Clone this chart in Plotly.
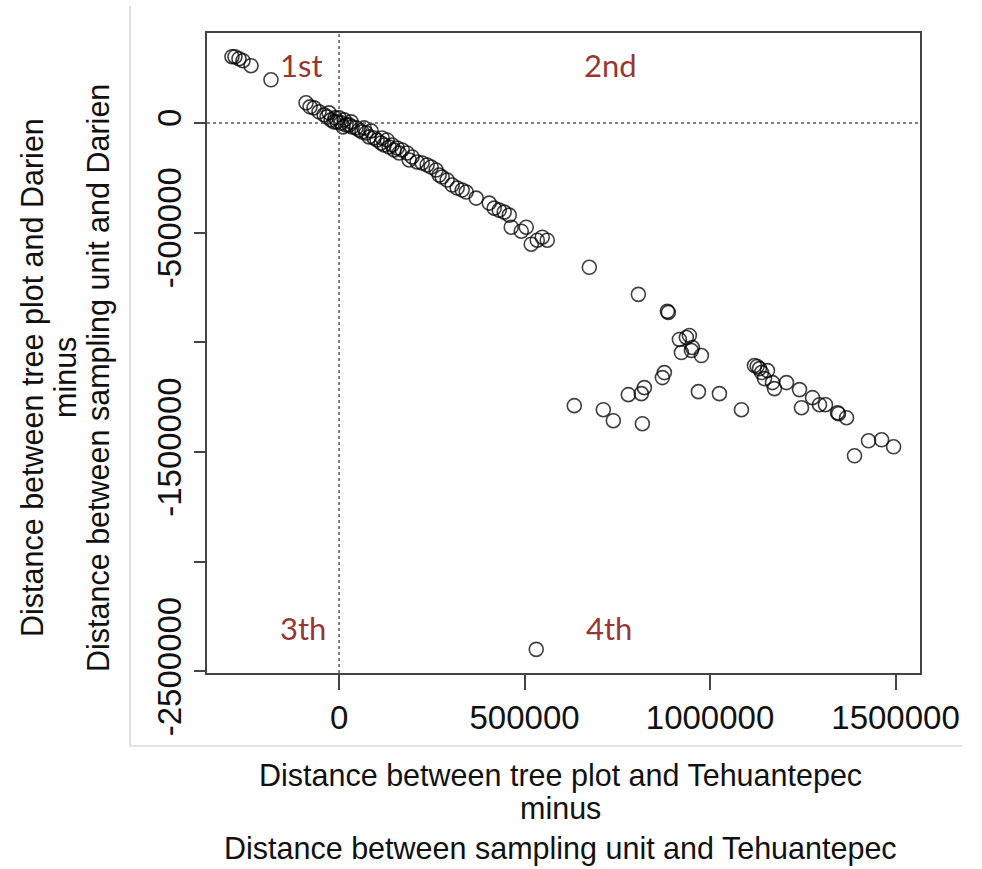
import plotly.graph_objects as go

# Difference in distance to Tehuantepec (x) and Darien (y)
x_vals = [
    -288700, -280600, -269800, -259000, -237400, -183500,
    -89000, -78200, -67500, -54000, -40500, -32400, -21600, -13500, -5400, 5400,
    13500, 18900, 27000, 35100, 45900, 54000, 62100, 72900, 80900, 94400,
    102500, 113300, 121400, 134900, 148400, 161900,
    -27000, -10800, 0, 10800, 32400, 67500, 86300, 116000, 129500, 188900,
    143000, 156500, 170000, 183500, 197000, 210500, 224000, 237400, 248200, 261700,
    269800, 277900, 291400, 304900, 318400, 342700, 369600, 404700,
    331900, 418200, 431700, 445200, 458700, 464100, 491100, 504600, 518000, 534300,
    547700, 561200,
    674600, 806800, 887700, 885000, 917400, 936200, 944300, 922800, 949800, 952500,
    976800, 876900, 871500, 823000, 814800, 779800, 968700, 1025300, 634100, 712300,
    739300, 817600, 1084700,
    1119800, 1127000, 1133300, 1138700, 1154800, 1146800, 1168300, 1173700, 1206100, 1241200,
    1246600, 1276300, 1295100, 1311300, 1343700, 1346400, 1368000, 1389500, 1427300, 1462400,
    1494800,
    531500,
]
y_vals = [
    301600, 301600, 292500, 283300, 260500, 196500,
    91400, 73100, 68600, 50300, 36600, 27400, 13700, 4600, 4600, 0,
    13700, -9100, -9100, -18300, -22900, -32000, -41100, -45700, -64000, -68600,
    -77700, -91400, -100500, -109700, -123400, -137100,
    45700, 22900, 22900, -18300, 4600, -22900, -36600, -68600, -77700, -169100,
    -100500, -114300, -123400, -137100, -155400, -178200, -182800, -191900, -201100, -214800,
    -237600, -246800, -260500, -283300, -297100, -315300, -342800, -365600,
    -306200, -388500, -397600, -406700, -420400, -475300, -493600, -475300, -553000, -534700,
    -521000, -534700,
    -658100, -781500, -863700, -859000, -987100, -978000, -968800, -1046500, -1037400, -1023700,
    -1060200, -1138000, -1160800, -1206500, -1233900, -1238500, -1224800, -1233900, -1288700, -1307000,
    -1357300, -1371000, -1307000,
    -1105900, -1110000, -1119700, -1137900, -1128800, -1165400, -1183600, -1211000, -1183600, -1215600,
    -1297900, -1252200, -1284200, -1284200, -1320700, -1325300, -1343600, -1517200, -1448700, -1444100,
    -1476100,
    -2399300,
]

x_ticks = [0, 500000, 1000000, 1500000]
x_tick_text = ["0", "500000", "1000000", "1500000"]
y_ticks = [0, -500000, -1000000, -1500000, -2000000, -2500000]
y_tick_text = ["0", "-500000", "", "-1500000", "", "-2500000"]

quadrant_labels = ["1st", "2nd", "3th", "4th"]
x_title_lines = ["Distance between tree plot and Tehuantepec", "minus",
                 "Distance between sampling unit and Tehuantepec"]
y_title_lines = ["Distance between tree plot and Darien", "minus",
                 "Distance between sampling unit and Darien"]

W, H = 982, 869
L, R, T, B = 207, 62, 33, 196
pw, ph = W - L - R, H - T - B

def px(xp):
    return (xp - L) / pw

def py(yp):
    return (H - B - yp) / ph

tick_font = dict(family="Liberation Sans Narrow, Arial Narrow, Liberation Sans, Arial", size=33, color="#111")
title_font = dict(family="Liberation Sans, Arial", size=30.5, color="#111")
quad_font = dict(family="Lato, Open Sans, sans-serif", size=31, color="#953735")

fig = go.Figure()
fig.add_trace(go.Scatter(
    x=x_vals, y=y_vals, mode="markers",
    marker=dict(symbol="circle-open", size=14, color="rgba(0,0,0,0.75)", line=dict(width=1.6)),
    showlegend=False, hoverinfo="x+y",
))

# dotted reference lines at zero
fig.add_shape(type="line", xref="x", yref="paper", x0=0, x1=0, y0=0, y1=1,
              line=dict(color="#555", width=1.5, dash="dot"))
fig.add_shape(type="line", xref="paper", yref="y", x0=0, x1=1, y0=0, y1=0,
              line=dict(color="#555", width=1.5, dash="dot"))

# light grey frame (left + bottom)
fig.add_shape(type="line", xref="paper", yref="paper", x0=px(130), x1=px(130), y0=py(6), y1=py(746),
              line=dict(color="#c8c8c8", width=1.2))
fig.add_shape(type="line", xref="paper", yref="paper", x0=px(130), x1=px(962), y0=py(746), y1=py(746),
              line=dict(color="#c8c8c8", width=1.2))

annotations = []
quad_pos = [(-102500, 265000), (731000, 265000), (-97000, -2303000), (728500, -2303000)]
for lab, (qx, qy) in zip(quadrant_labels, quad_pos):
    annotations.append(dict(x=qx, y=qy, xref="x", yref="y", text=lab, showarrow=False,
                            font=quad_font, xanchor="center", yanchor="middle"))

for line, yp in zip(x_title_lines, [775, 808, 848]):
    annotations.append(dict(x=px(560), y=py(yp), xref="paper", yref="paper", text=line,
                            showarrow=False, font=title_font, xanchor="center", yanchor="middle"))
for line, xp in zip(y_title_lines, [32, 65, 98]):
    annotations.append(dict(x=px(xp), y=py(378), xref="paper", yref="paper", text=line,
                            showarrow=False, font=title_font, textangle=-90,
                            xanchor="center", yanchor="middle"))

fig.update_layout(
    width=W, height=H,
    margin=dict(l=L, r=R, t=T, b=B, pad=0),
    paper_bgcolor="white", plot_bgcolor="white",
    annotations=annotations,
    xaxis=dict(range=[-356000, 1566000], tickvals=x_ticks, ticktext=x_tick_text,
               ticks="outside", ticklen=15, tickwidth=1.5, tickcolor="#444",
               showline=True, mirror=True, linecolor="#444", linewidth=1.5,
               showgrid=False, zeroline=False, tickfont=tick_font, automargin=False),
    yaxis=dict(range=[-2507000, 409600], tickvals=y_ticks, ticktext=y_tick_text,
               ticks="outside", ticklen=11, tickwidth=1.5, tickcolor="#444", tickangle=-90,
               showline=True, mirror=True, linecolor="#444", linewidth=1.5,
               showgrid=False, zeroline=False, tickfont=tick_font, automargin=False),
)

fig.write_html("out.html")
